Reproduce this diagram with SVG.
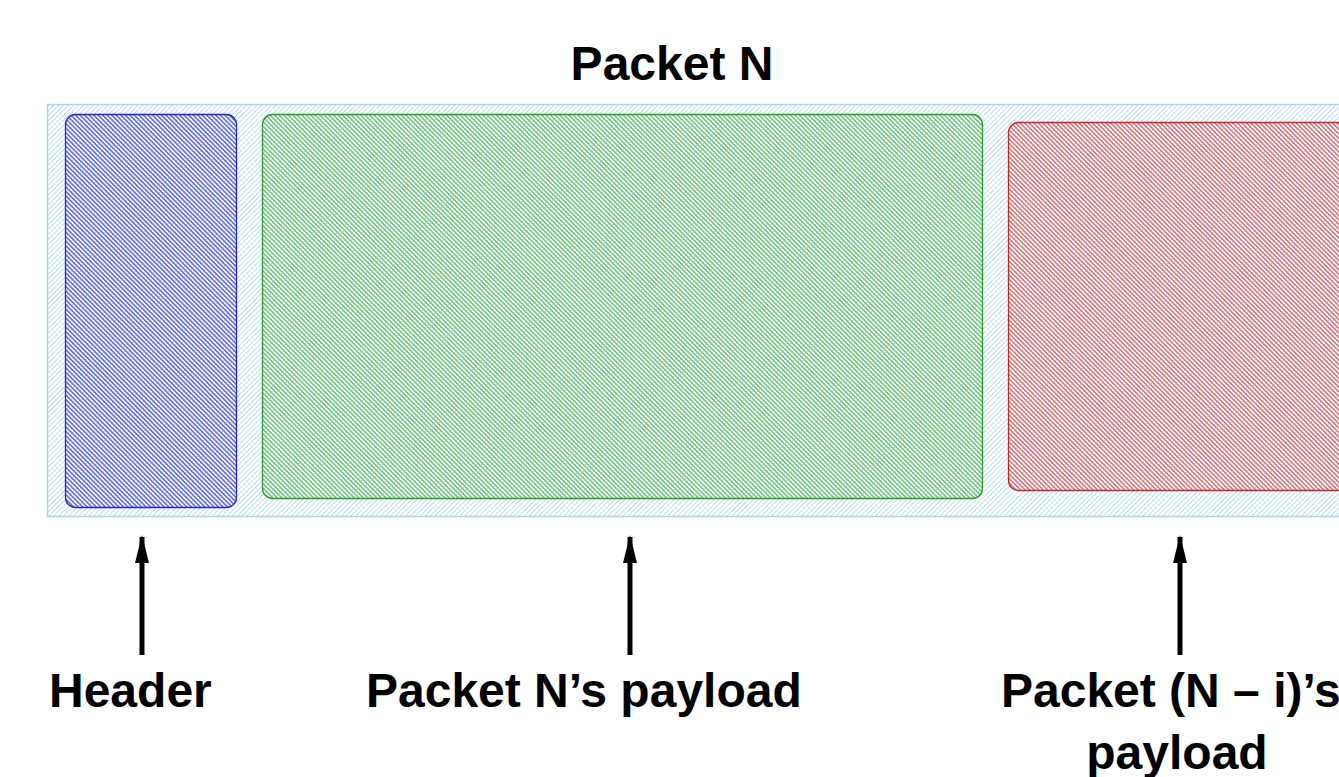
<svg xmlns="http://www.w3.org/2000/svg" width="1339" height="777" viewBox="0 0 1339 777">
<style>
  .lbl { font-family: "Liberation Sans", Arial, sans-serif; font-weight: bold; font-size: 48px; fill: #000; }
  .arrow { stroke: #000; stroke-width: 5; fill: none; marker-end: url(#head); }
  .hl { shape-rendering: crispEdges; }
</style>
<defs>
  <pattern id="hOuter" patternUnits="userSpaceOnUse" width="3.5" height="10" patternTransform="rotate(45)">
    <rect class="hl" x="0" y="0" width="1.3" height="10" fill="#b2dcf8"/>
  </pattern>
  <pattern id="hBlue" patternUnits="userSpaceOnUse" width="3.2" height="10" patternTransform="rotate(-45)">
    <rect class="hl" x="0" y="0" width="1.3" height="10" fill="#7070d6"/>
  </pattern>
  <pattern id="hGreen" patternUnits="userSpaceOnUse" width="3.2" height="10" patternTransform="rotate(-45)">
    <rect class="hl" x="0" y="0" width="1.3" height="10" fill="#80c680"/>
  </pattern>
  <pattern id="hRed" patternUnits="userSpaceOnUse" width="3.2" height="10" patternTransform="rotate(-45)">
    <rect class="hl" x="0" y="0" width="1.3" height="10" fill="#da7c7c"/>
  </pattern>
  <marker id="head" viewBox="0 0 28 14" refX="26" refY="7" markerWidth="28" markerHeight="14" markerUnits="userSpaceOnUse" orient="auto">
    <path d="M0,0 L28,7 L0,14 Z" fill="#000"/>
  </marker>
</defs>
<rect width="1339" height="777" fill="#fff"/>
<text class="lbl" x="672" y="80" text-anchor="middle">Packet N</text>
<g id="packet">
  <rect x="47.5" y="104.5" width="1300" height="412" fill="url(#hOuter)" stroke="#a9d6f6" stroke-width="1.5"/>
</g>
<g id="header">
  <rect x="65.5" y="114.5" width="171" height="393" rx="10" fill="url(#hBlue)" stroke="#2626c0" stroke-width="1.3"/>
</g>
<g id="payloadN">
  <rect x="262.5" y="114.5" width="720" height="384" rx="10" fill="url(#hGreen)" stroke="#2a9a2a" stroke-width="1.3"/>
</g>
<g id="payloadNi">
  <rect x="1008.5" y="122.5" width="360" height="368" rx="10" fill="url(#hRed)" stroke="#c02a2a" stroke-width="1.3"/>
</g>
<g id="connectors">
  <line class="arrow" x1="142" y1="655" x2="142" y2="537"/>
  <line class="arrow" x1="630" y1="655" x2="630" y2="537"/>
  <line class="arrow" x1="1180" y1="655" x2="1180" y2="537"/>
</g>
<g id="labels">
  <text class="lbl" x="49" y="707">Header</text>
  <text class="lbl" x="366" y="707">Packet N’s payload</text>
  <text class="lbl" x="1001" y="707">Packet (N – i)’s</text>
  <text class="lbl" x="1177" y="769" text-anchor="middle">payload</text>
</g>
</svg>
